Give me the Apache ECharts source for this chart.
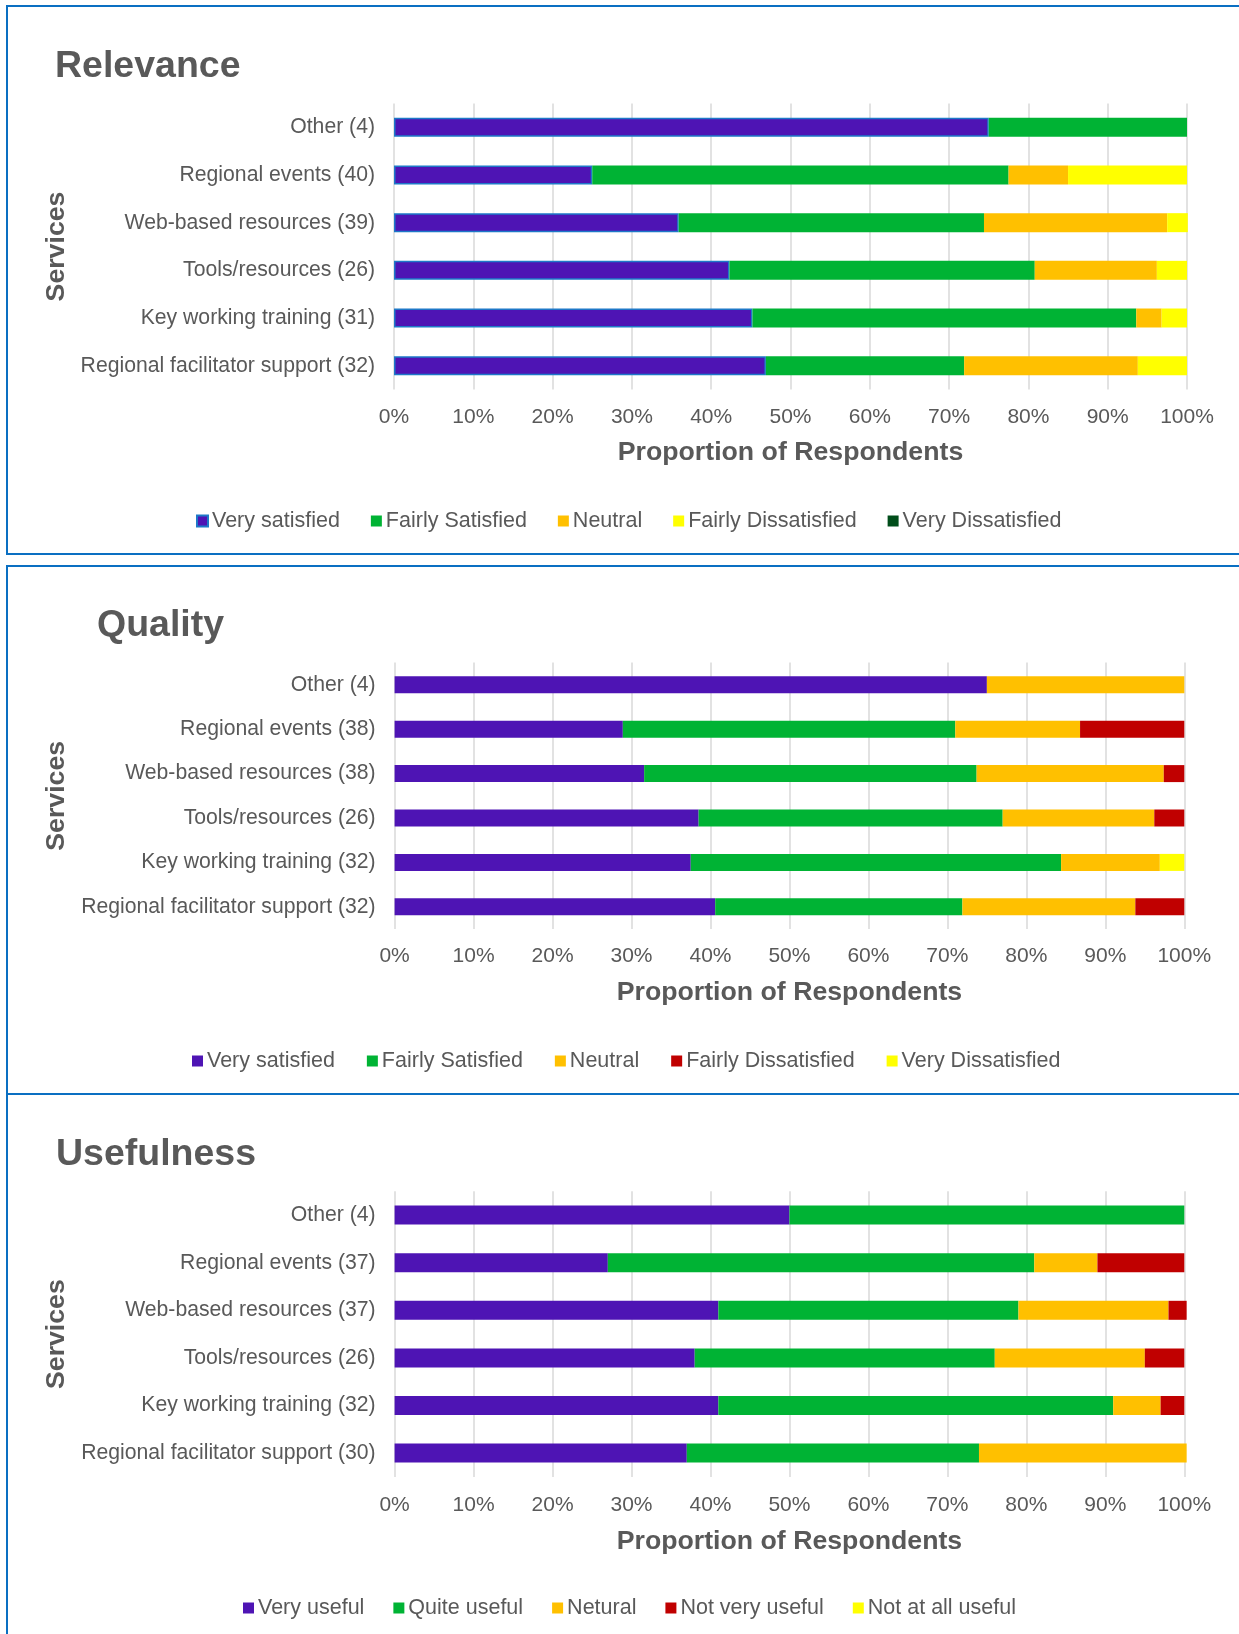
<!DOCTYPE html>
<html>
<head>
<meta charset="utf-8">
<script src="https://cdn.jsdelivr.net/npm/echarts@6/dist/echarts.min.js"></script>
<style>
html,body{margin:0;padding:0;background:#ffffff;width:1239px;height:1634px;overflow:hidden;}
.chart{position:absolute;left:0;width:1239px;}
.ln{position:absolute;background:#0A6FC2;z-index:10;}
</style>
</head>
<body>
<div id="c1" class="chart" style="top:0px;height:560px"></div>
<div id="c2" class="chart" style="top:560px;height:534px"></div>
<div id="c3" class="chart" style="top:1094px;height:540px"></div>

<div class="ln" style="left:6px;top:5px;width:1233px;height:2px"></div>
<div class="ln" style="left:6px;top:5px;width:2px;height:550px"></div>
<div class="ln" style="left:6px;top:553px;width:1233px;height:2px"></div>
<div class="ln" style="left:6px;top:565px;width:1233px;height:2px"></div>
<div class="ln" style="left:6px;top:565px;width:2px;height:1069px"></div>
<div class="ln" style="left:6px;top:1093px;width:1233px;height:2px"></div>

<script>
// ---------------- DATA ----------------
const relevanceCategories = ['Other (4)', 'Regional events (40)', 'Web-based resources (39)', 'Tools/resources (26)', 'Key working training (31)', 'Regional facilitator support (32)'];
const relevanceNames = ['Very satisfied', 'Fairly Satisfied', 'Neutral', 'Fairly Dissatisfied', 'Very Dissatisfied'];
const relVerySatisfied      = [75, 25, 35.9, 42.3, 45.2, 46.9];
const relFairlySatisfied    = [25, 52.5, 38.5, 38.5, 48.4, 25.0];
const relNeutral            = [0, 7.5, 23.1, 15.4, 3.2, 21.9];
const relFairlyDissatisfied = [0, 15, 2.6, 3.8, 3.2, 6.2];
const relVeryDissatisfied   = [0, 0, 0, 0, 0, 0];

const qualityCategories = ['Other (4)', 'Regional events (38)', 'Web-based resources (38)', 'Tools/resources (26)', 'Key working training (32)', 'Regional facilitator support (32)'];
const qualityNames = ['Very satisfied', 'Fairly Satisfied', 'Neutral', 'Fairly Dissatisfied', 'Very Dissatisfied'];
const qualVerySatisfied      = [75, 28.9, 31.6, 38.5, 37.5, 40.6];
const qualFairlySatisfied    = [0, 42.1, 42.1, 38.5, 46.9, 31.3];
const qualNeutral            = [25, 15.8, 23.7, 19.2, 12.5, 21.9];
const qualFairlyDissatisfied = [0, 13.2, 2.6, 3.8, 0, 6.2];
const qualVeryDissatisfied   = [0, 0, 0, 0, 3.1, 0];

const usefulnessCategories = ['Other (4)', 'Regional events (37)', 'Web-based resources (37)', 'Tools/resources (26)', 'Key working training (32)', 'Regional facilitator support (30)'];
const usefulnessNames = ['Very useful', 'Quite useful', 'Netural', 'Not very useful', 'Not at all useful'];
const useVeryUseful    = [50, 27, 41, 38, 41, 37];
const useQuiteUseful   = [50, 54, 38, 38, 50, 37];
const useNeutral       = [0, 8, 19, 19, 6, 26.3];
const useNotVeryUseful = [0, 11, 2.3, 5, 3, 0];
const useNotAtAll      = [0, 0, 0, 0, 0, 0];

const xTicks = [0, 10, 20, 30, 40, 50, 60, 70, 80, 90, 100];

// ---------------- STYLE ----------------
const FONT = '"Liberation Sans", Arial, Helvetica, sans-serif';
const TXT = '#595959';
const PURPLE = '#4E14B4', GREEN = '#00B334', ORANGE = '#FFC000', YELLOW = '#FFFF00', RED = '#C00000', DKGREEN = '#004D1A';

function buildOption(p) {
  const series = p.values.map((vals, i) => ({
    name: p.names[i],
    type: 'bar',
    stack: 'total',
    data: vals,
    barWidth: p.barWidth,
    clip: false,
    itemStyle: Object.assign({ color: p.colors[i] }, (p.borders && p.borders[i]) ? { borderColor: p.borders[i], borderWidth: 1.5 } : {}),
    emphasis: { disabled: true }
  }));
  return {
    animation: false,
    textStyle: { fontFamily: FONT },
    title: {
      text: p.title, left: p.titleX, top: p.titleTop, padding: 0,
      textStyle: { fontSize: 37.5, fontWeight: 'bold', color: TXT, fontFamily: FONT }
    },
    legend: {
      data: p.names, left: p.legendX, top: p.legendTop, padding: 0,
      icon: 'rect', itemWidth: 11, itemHeight: 11, itemGap: p.legendGap,
      textStyle: { fontSize: 21.5, color: TXT, fontFamily: FONT, padding: [0, 0, 0, -1] },
      selectedMode: false
    },
    grid: { left: p.gridLeft, right: p.gridRight, top: p.gridTop, bottom: p.gridBottom, containLabel: false, outerBoundsMode: 'none' },
    xAxis: {
      type: 'value', min: xTicks[0], max: xTicks[xTicks.length - 1], interval: xTicks[1] - xTicks[0],
      axisLine: { show: false }, axisTick: { show: false },
      axisLabel: { formatter: '{value}%', fontSize: 21, color: TXT, margin: p.tickMargin, fontFamily: FONT },
      splitLine: { show: true, lineStyle: { color: '#D9D9D9', width: 1.5 } },
      name: 'Proportion of Respondents', nameLocation: 'middle', nameGap: p.nameGap,
      nameTextStyle: { fontSize: 26.7, fontWeight: 'bold', color: TXT, fontFamily: FONT }
    },
    yAxis: {
      type: 'category', data: p.categories, inverse: true,
      axisLine: { show: false }, axisTick: { show: false },
      axisLabel: { fontSize: 21.2, color: TXT, margin: 19, fontFamily: FONT },
      name: 'Services', nameLocation: 'middle', nameGap: p.yNameGap,
      nameTextStyle: { fontSize: 26.7, fontWeight: 'bold', color: TXT, fontFamily: FONT }
    },
    series: series
  };
}

const c1 = echarts.init(document.getElementById('c1'), null, { renderer: 'canvas' });
c1.setOption(buildOption({
  title: 'Relevance', titleX: 55, titleTop: 48,
  categories: relevanceCategories, names: relevanceNames,
  values: [relVerySatisfied, relFairlySatisfied, relNeutral, relFairlyDissatisfied, relVeryDissatisfied],
  colors: [PURPLE, GREEN, ORANGE, YELLOW, DKGREEN],
  borders: ['#1E78C8', null, null, null, null],
  barWidth: 19,
  gridLeft: 394, gridRight: 52, gridTop: 103.5, gridBottom: 170.5,
  tickMargin: 17, nameGap: 50, yNameGap: 321,
  legendX: 196, legendTop: 510, legendGap: 31
}));

const c2 = echarts.init(document.getElementById('c2'), null, { renderer: 'canvas' });
c2.setOption(buildOption({
  title: 'Quality', titleX: 97, titleTop: 47,
  categories: qualityCategories, names: qualityNames,
  values: [qualVerySatisfied, qualFairlySatisfied, qualNeutral, qualFairlyDissatisfied, qualVeryDissatisfied],
  colors: [PURPLE, GREEN, ORANGE, RED, YELLOW],
  barWidth: 17,
  gridLeft: 394.6, gridRight: 54.7, gridTop: 102.6, gridBottom: 165,
  tickMargin: 17, nameGap: 50, yNameGap: 321,
  legendX: 192, legendTop: 490, legendGap: 32
}));

const c3 = echarts.init(document.getElementById('c3'), null, { renderer: 'canvas' });
c3.setOption(buildOption({
  title: 'Usefulness', titleX: 56, titleTop: 42,
  categories: usefulnessCategories, names: usefulnessNames,
  values: [useVeryUseful, useQuiteUseful, useNeutral, useNotVeryUseful, useNotAtAll],
  colors: [PURPLE, GREEN, ORANGE, RED, YELLOW],
  barWidth: 19,
  gridLeft: 394.6, gridRight: 54.7, gridTop: 97.3, gridBottom: 157.1,
  tickMargin: 18, nameGap: 51, yNameGap: 321,
  legendX: 243, legendTop: 503, legendGap: 29
}));
</script>
</body>
</html>
